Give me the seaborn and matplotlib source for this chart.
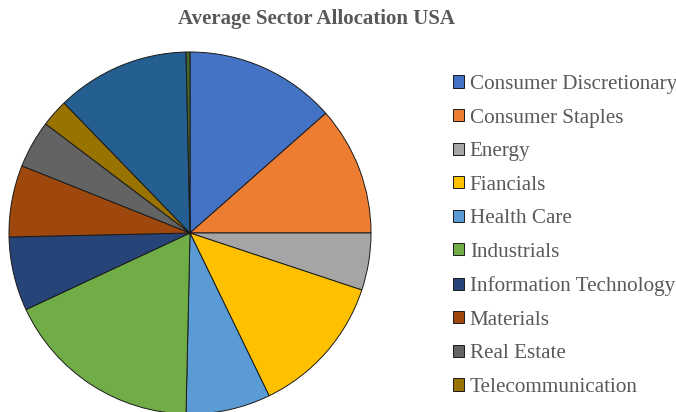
import numpy as np
import pandas as pd
import seaborn as sns
import matplotlib
matplotlib.use('Agg')
import matplotlib.pyplot as plt

sns.set_theme(style='white')
plt.rcParams['font.family'] = ['Liberation Serif', 'DejaVu Serif']

# sector shares (%), clockwise from 12 o'clock
sectors = ['Consumer Discretionary', 'Consumer Staples', 'Energy', 'Fiancials',
           'Health Care', 'Industrials', 'Information Technology', 'Materials',
           'Real Estate', 'Telecommunication', 'Utilities', 'Other']
shares = [13.5, 11.5, 5.1, 12.7, 7.55, 17.7, 6.6, 6.4, 4.25, 2.45, 11.9, 0.35]
colors = ['#4472C4', '#ED7D31', '#A5A5A5', '#FFC000', '#5B9BD5', '#70AD47',
          '#264478', '#9E480E', '#636363', '#997300', '#255E91', '#43682B']

df = pd.DataFrame({'sector': sectors, 'share': shares})

W, H = 676, 412
fig = plt.figure(figsize=(W / 100, H / 100), dpi=100)
fig.patch.set_facecolor('white')

# pie centred at (190, 233) px, radius about 181 px
cx, cy, r = 190, 233, 181
ax = fig.add_axes([(cx - r) / W, (H - cy - r) / H, 2 * r / W, 2 * r / H])
wedges, _ = ax.pie(df['share'], colors=colors, startangle=90, counterclock=False,
                   radius=1, wedgeprops=dict(edgecolor='#1a1a1a', linewidth=0.7))
ax.set_xlim(-1, 1)
ax.set_ylim(-1, 1)
ax.axis('off')

fig.text(316 / W, 1 - 19 / H, 'Average Sector Allocation USA', ha='center', va='center',
         family='Liberation Serif', fontsize=15, fontweight='bold', color='#595959')

# Excel cut the legend after ten entries
leg = fig.legend(wedges[:10], sectors[:10], loc='upper left',
                 bbox_to_anchor=(453 / W, 1 - 75 / H), frameon=False,
                 prop=dict(family='Liberation Serif', size=15.2),
                 labelcolor='#595959', handlelength=0.5,
                 handleheight=0.5, handletextpad=0.3, labelspacing=0.69,
                 borderpad=0, borderaxespad=0)

fig.savefig('out.png', dpi=100, facecolor='white')
